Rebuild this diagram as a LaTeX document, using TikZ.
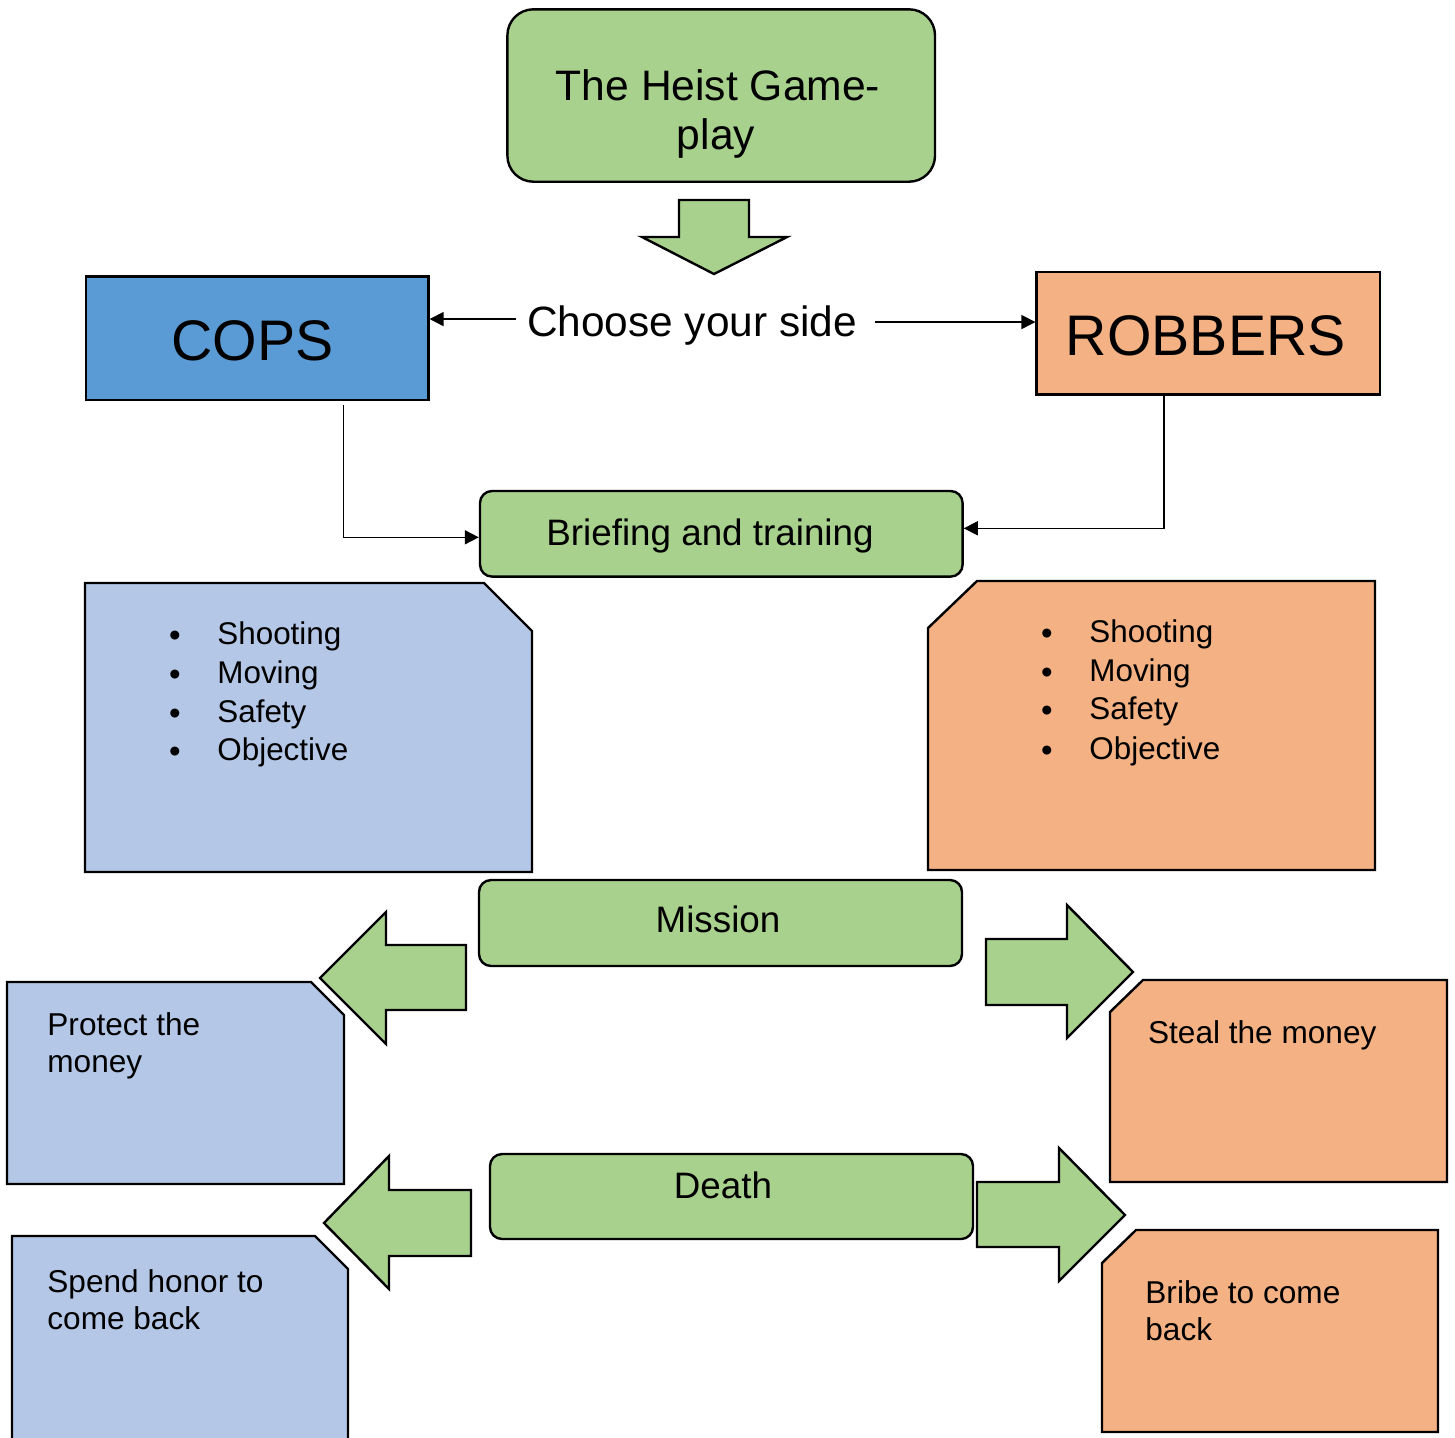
\documentclass[tikz,border=0pt]{standalone}
\usepackage{fontspec}
\setmainfont{Liberation Sans}
\usetikzlibrary{arrows.meta,calc}
\definecolor{hgreen}{HTML}{A9D18E}
\definecolor{hblue}{HTML}{5B9BD5}
\definecolor{hlblue}{HTML}{B4C7E7}
\definecolor{horange}{HTML}{F4B183}
\newcommand\fsz[1]{\fontsize{#1pt}{#1pt}\selectfont}
\begin{document}
\begin{tikzpicture}[x=0.5pt,y=-0.5pt,
  outline/.style={draw=black,line width=1.2pt},
  gbox/.style={outline,fill=hgreen,rounded corners=6pt,inner sep=0pt},
  sqbox/.style={outline,inner sep=0pt},
  blockarrow/.style={outline,fill=hgreen,line join=miter},
  snipbox/.style={outline,line join=miter},
  conn/.style={line width=0.8pt,-{Triangle[length=7pt,width=7pt]}},
  lbl/.style={inner sep=0pt,anchor=base},
  lblw/.style={inner sep=0pt,anchor=base west},
  bul/.style={inner sep=0pt,anchor=base,font=\fsz{16.5}},
]
\useasboundingbox (0,0) rectangle (1455,1437);
\clip (0,0) rectangle (1455,1437);

% title
\node[gbox,rounded corners=13pt,minimum width=213.8pt,minimum height=86.2pt] (title) at (721.2,95.5) {};
\node[lbl,font=\fsz{21.3}] (titleA) at (718,100) {The Heist Game-};
\node[lbl,font=\fsz{21.3}] (titleB) at (716,149) {play};

\draw[blockarrow] (679,200) -- (749,200) -- (749,237) -- (787,237) -- (714,274) -- (642,237) -- (679,237) -- cycle;

% sides
\node[sqbox,fill=hblue,minimum width=171.2pt,minimum height=61.7pt] (cops) at (257.2,338.3) {};
\node[lbl,font=\fsz{28.6}] (copsT) at (252.5,360.7) {COPS};
\node[sqbox,fill=horange,minimum width=171.7pt,minimum height=61.3pt] (robbers) at (1208.3,333) {};
\node[lbl,font=\fsz{28.6}] (robbersT) at (1205.8,355) {ROBBERS};

\node[lbl,font=\fsz{21.2},inner xsep=5.5pt] (choose) at (692,336) {Choose your side};
\draw[conn] ([yshift=3pt]choose.west) -- ([yshift=3pt]choose.west -| cops.east);
\draw[conn] ([xshift=3.5pt,yshift=1.5pt]choose.east) -- ([yshift=1.5pt]choose.east -| robbers.west);

% briefing
\node[gbox,minimum width=241.3pt,minimum height=42.8pt] (brief) at (721.3,533.8) {};
\node[lbl,font=\fsz{18.4}] (briefT) at (710,545) {Briefing and training};
\coordinate (copsOut) at ($(cops.south west)!0.75!(cops.south east)+(0,4)$);
\coordinate (robOut) at ($(robbers.south west)!0.372!(robbers.south east)$);
\draw[conn] (copsOut) |- ([yshift=-1.75pt]brief.west);
\draw[conn] (robOut) |- ([yshift=2.75pt]brief.east);

% lists
\draw[snipbox,fill=hlblue] (85,583) -- (484,583) -- (532,631) -- (532,872) -- (85,872) -- cycle;
\foreach \lab/\yy [count=\i] in {Shooting/644,Moving/683,Safety/722,Objective/760}{
  \node[bul] (copsB\i) at (175,\yy+2) {•};
  \node[lblw,font=\fsz{15.7}] (copsL\i) at (217,\yy) {\lab};
}
\draw[snipbox,fill=horange] (928,628) -- (977,581) -- (1375,581) -- (1375,870) -- (928,870) -- cycle;
\foreach \lab/\yy [count=\i] in {Shooting/642,Moving/681,Safety/719,Objective/759}{
  \node[bul] (robB\i) at (1047,\yy+2) {•};
  \node[lblw,font=\fsz{15.7}] (robL\i) at (1089,\yy) {\lab};
}

% mission
\node[gbox,minimum width=241.5pt,minimum height=43pt] (mission) at (720.5,923) {};
\node[lbl,font=\fsz{18.4}] (missionT) at (718,932.7) {Mission};
\draw[blockarrow] (466,945) -- (386,945) -- (386,912) -- (320,978) -- (386,1044) -- (386,1010) -- (466,1010) -- cycle;
\draw[blockarrow] (986,939) -- (1067,939) -- (1067,905) -- (1133,972) -- (1067,1038) -- (1067,1005) -- (986,1005) -- cycle;

\draw[snipbox,fill=hlblue] (7,982) -- (311,982) -- (344,1015) -- (344,1184) -- (7,1184) -- cycle;
\node[lblw,font=\fsz{15.8}] (protA) at (47,1035) {Protect the};
\node[lblw,font=\fsz{15.8}] (protB) at (47,1072) {money};

\draw[snipbox,fill=horange] (1110,1012) -- (1143,980) -- (1447,980) -- (1447,1182) -- (1110,1182) -- cycle;
\node[lblw,font=\fsz{15.8}] (steal) at (1147.7,1043.3) {Steal the money};

% death
\node[gbox,minimum width=241.5pt,minimum height=42.5pt] (death) at (731.5,1196.5) {};
\node[lbl,font=\fsz{18.4}] (deathT) at (723,1198.3) {Death};
\draw[blockarrow] (471,1190) -- (389,1190) -- (389,1156) -- (324,1223) -- (389,1289) -- (389,1256) -- (471,1256) -- cycle;
\draw[blockarrow] (977,1182) -- (1059,1182) -- (1059,1148) -- (1125,1215) -- (1059,1281) -- (1059,1247) -- (977,1247) -- cycle;

\draw[snipbox,fill=hlblue] (12,1236) -- (315,1236) -- (348,1269) -- (348,1450) -- (12,1450) -- cycle;
\node[lblw,font=\fsz{15.8}] (spendA) at (47,1292.7) {Spend honor to};
\node[lblw,font=\fsz{15.8}] (spendB) at (47,1329.3) {come back};

\draw[snipbox,fill=horange] (1102,1263) -- (1136,1230) -- (1438,1230) -- (1438,1432) -- (1102,1432) -- cycle;
\node[lblw,font=\fsz{15.8}] (bribeA) at (1145,1303.3) {Bribe to come};
\node[lblw,font=\fsz{15.8}] (bribeB) at (1145,1340) {back};
\end{tikzpicture}
\end{document}
